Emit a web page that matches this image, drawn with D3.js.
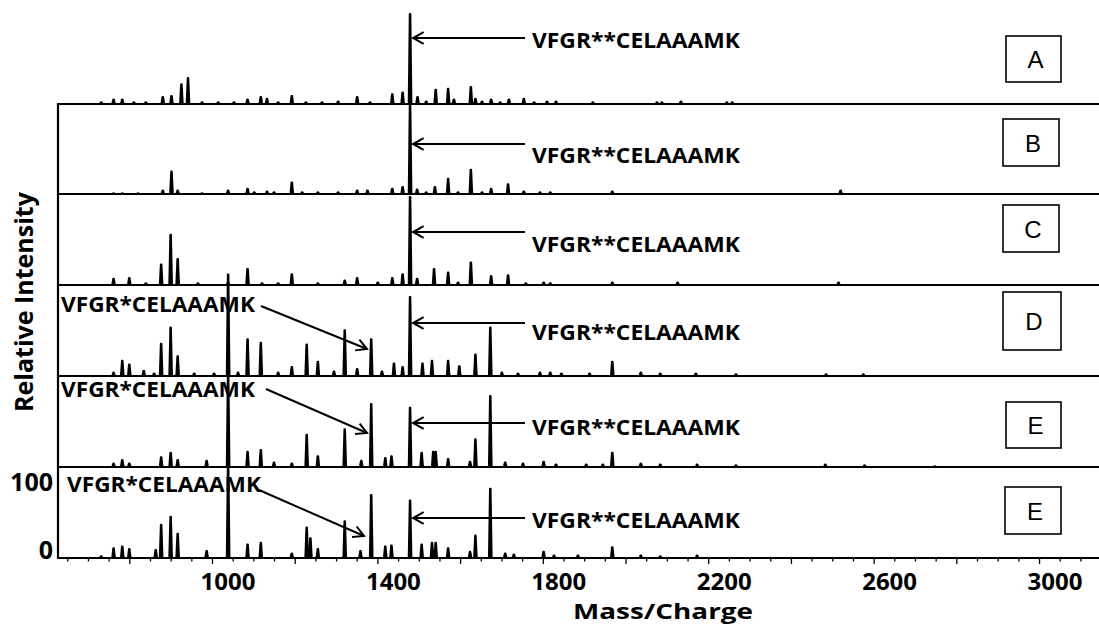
<!DOCTYPE html>
<html><head><meta charset="utf-8">
<script src="https://cdn.jsdelivr.net/npm/d3@7"></script>
<style>body{margin:0;background:#fff} svg{display:block}</style>
</head><body><svg id="c" width="1099" height="629"></svg>
<script>
// ---- data ----
const panelLabels = ["A","B","C","D","E","E"];
const xTickLabels = [1000,1400,1800,2200,2600,3000];
const peakLabelMain = "VFGR**CELAAAMK";
const peakLabelMinor = "VFGR*CELAAAMK";
const mainPeakMz = 1479;
const minorPeakMz = 1385;
// [m/z, relative intensity]
const peaksA = [[732,2],[762,5],[783,5],[811,2],[840,2],[881,8],[902,9],[926,22],[942,29],[976,2],[1015,2],[1053,2],[1086,5],[1118,8],[1133,6],[1160,2],[1193,9],[1227,2],[1266,2],[1305,3],[1351,8],[1382,2],[1436,11],[1461,13],[1479,100],[1497,8],[1518,3],[1541,16],[1571,17],[1585,5],[1626,19],[1637,6],[1653,3],[1675,5],[1697,2],[1718,5],[1754,6],[1779,2],[1810,3],[1832,3],[1921,2],[2076,2],[2088,2],[2134,3],[2245,2],[2258,2]];
const peaksB = [[762,1],[783,1],[821,1],[881,4],[902,25],[917,4],[976,1],[1039,4],[1086,6],[1102,2],[1133,3],[1150,2],[1193,13],[1218,2],[1256,2],[1305,2],[1351,4],[1376,4],[1436,6],[1461,8],[1479,100],[1496,5],[1518,2],[1539,8],[1571,17],[1595,2],[1626,27],[1653,2],[1675,6],[1716,11],[1754,3],[1793,2],[1818,2],[1968,3],[2520,4]];
const peaksC = [[762,7],[800,8],[840,2],[877,23],[900,56],[917,29],[966,2],[1039,3],[1086,18],[1121,2],[1160,2],[1193,12],[1256,2],[1321,5],[1351,8],[1401,3],[1436,8],[1461,12],[1479,98],[1496,7],[1537,18],[1571,14],[1595,3],[1626,25],[1675,10],[1716,11],[1759,2],[1802,3],[1818,2],[1968,3],[2126,3],[2515,3]];
const peaksD = [[762,4],[783,17],[800,13],[835,6],[860,3],[877,36],[900,54],[917,22],[957,3],[1005,3],[1039,113],[1063,4],[1086,41],[1118,37],[1160,4],[1193,10],[1229,35],[1256,16],[1295,5],[1321,51],[1351,8],[1385,41],[1411,5],[1440,14],[1461,10],[1479,88],[1509,14],[1532,17],[1571,17],[1598,11],[1637,24],[1673,54],[1701,4],[1740,3],[1793,4],[1818,4],[1845,3],[1913,3],[1968,16],[2037,4],[2084,3],[2170,3],[2267,2],[2485,2],[2575,2]];
const peaksE = [[762,4],[783,8],[800,4],[877,11],[900,16],[917,8],[987,7],[1039,105],[1086,17],[1118,19],[1150,5],[1193,4],[1229,36],[1256,12],[1321,42],[1361,7],[1385,70],[1419,10],[1434,12],[1479,66],[1507,16],[1535,17],[1541,17],[1571,9],[1624,6],[1637,31],[1673,79],[1709,5],[1752,4],[1802,6],[1832,3],[1905,3],[1945,3],[1968,16],[2037,4],[2084,3],[2173,3],[2267,2],[2483,3],[2578,2],[2748,1]];
const peaksF = [[732,2],[762,11],[783,13],[800,10],[864,9],[877,37],[900,46],[917,27],[987,8],[1039,106],[1086,15],[1118,17],[1193,5],[1229,34],[1238,22],[1256,10],[1321,41],[1359,8],[1385,70],[1419,13],[1434,14],[1479,64],[1507,15],[1532,17],[1541,17],[1571,11],[1624,7],[1637,25],[1673,77],[1709,5],[1730,4],[1802,7],[1827,3],[1885,3],[1968,12],[2037,3],[2084,2],[2173,3]];
const spectra = [peaksA,peaksB,peaksC,peaksD,peaksE,peaksF];

// ---- layout ----
const W = 1099, H = 629;
const axisX = 58;
const bases = [104,194,285,376,467,558];
const panelH = 90;
const svg = d3.select("#c");
const x = d3.scaleLinear().domain([627.6,3145]).range([axisX, W]);
const FONT = "'Open Sans', 'DejaVu Sans', sans-serif";

const g = svg.append("g");

// spectra
spectra.forEach((pk, i) => {
  const y = d3.scaleLinear().domain([0,100]).range([bases[i], bases[i]-panelH]);
  const sorted = pk.slice().sort((a,b)=>a[0]-b[0]);
  const pts = [[725,0]];
  sorted.forEach(([m,h]) => {
    pts.push([m-3.5,0],[m-0.9,h],[m+0.9,h],[m+3.5,0]);
  });
  pts.push([3145,0]);
  g.append("path")
    .attr("d", d3.line().x(d=>x(d[0])).y(d=>y(d[1]))(pts))
    .attr("fill","#000").attr("stroke","#000").attr("stroke-width",1.8)
    .attr("stroke-linejoin","round");
});

// separator / base lines
bases.forEach(b => {
  g.append("line").attr("x1",axisX).attr("x2",W).attr("y1",b).attr("y2",b)
    .attr("stroke","#000").attr("stroke-width",2.2);
});
g.append("line").attr("x1",axisX).attr("x2",axisX).attr("y1",bases[0]-1).attr("y2",bases[5]+1)
  .attr("stroke","#000").attr("stroke-width",2.2);

// x axis
const axis = d3.axisBottom(x).tickValues(d3.range(650,3150,50)).tickSize(3).tickFormat("");
const ax = svg.append("g").attr("transform",`translate(0,${bases[5]})`).call(axis);
ax.select(".domain").remove();
ax.selectAll(".tick line").attr("stroke","#000").attr("stroke-width",1.3)
  .attr("y2", d => d % 200 === 0 ? 6 : 3.5);
svg.append("g").selectAll("text").data(xTickLabels).join("text")
  .attr("x", d => x(d) + 16).attr("y", 590)
  .attr("text-anchor","middle")
  .attr("font-family",FONT).attr("font-weight","bold").attr("font-size",24)
  .text(d => d);
svg.append("text").attr("x",663).attr("y",619).attr("text-anchor","middle")
  .attr("font-family",FONT).attr("font-weight","bold").attr("font-size",21)
  .attr("textLength",180).attr("lengthAdjust","spacingAndGlyphs")
  .text("Mass/Charge");

// y axis labels
svg.append("text").attr("x",53).attr("y",491).attr("text-anchor","end")
  .attr("font-family",FONT).attr("font-weight","bold").attr("font-size",25).text("100");
svg.append("text").attr("x",53).attr("y",559).attr("text-anchor","end")
  .attr("font-family",FONT).attr("font-weight","bold").attr("font-size",25).text("0");
svg.append("text").attr("transform","translate(33,302) rotate(-90)").attr("text-anchor","middle")
  .attr("font-family",FONT).attr("font-weight","bold").attr("font-size",25)
  .text("Relative Intensity");

// annotations
const arrowY = [38,144,232,323,423,518];
const textBase = [48,163,252,340,435,528];
function chevron(px,py,angle){
  const L=12, a=0.5;
  const p1=[px+L*Math.cos(angle+a), py+L*Math.sin(angle+a)];
  const p2=[px+L*Math.cos(angle-a), py+L*Math.sin(angle-a)];
  return `M${p1}L${px},${py}L${p2}`;
}
const ann = svg.append("g").attr("stroke","#000").attr("stroke-width",2).attr("fill","none");
arrowY.forEach((ay,i) => {
  const px = x(mainPeakMz)+3;
  ann.append("line").attr("x1",px).attr("x2",525).attr("y1",ay).attr("y2",ay);
  ann.append("path").attr("d",chevron(px,ay,0));
  svg.append("text").attr("x",532).attr("y",textBase[i])
    .attr("font-family",FONT).attr("font-weight","bold").attr("font-size",21)
    .attr("textLength",208).attr("lengthAdjust","spacingAndGlyphs")
    .text(peakLabelMain);
});
const minorText = [[61,312],[61,397],[67,492]];
const minorArrow = [[261,306,367,349],[266,389,367,433],[259,490,364,536]];
minorArrow.forEach((a,j) => {
  const ang = Math.atan2(a[1]-a[3], a[0]-a[2]);
  ann.append("line").attr("x1",a[0]).attr("y1",a[1]).attr("x2",a[2]).attr("y2",a[3]);
  ann.append("path").attr("d",chevron(a[2],a[3],ang));
  svg.append("text").attr("x",minorText[j][0]).attr("y",minorText[j][1])
    .attr("font-family",FONT).attr("font-weight","bold").attr("font-size",21)
    .attr("textLength",194).attr("lengthAdjust","spacingAndGlyphs")
    .text(peakLabelMinor);
});

// panel boxes
const boxes = [[1006,36,55,46],[1003,119,56,47],[1003,205,56,47],[1003,292,58,58],[1006,402,55,46],[1005,487,56,47]];
panelLabels.forEach((lab,i) => {
  const [bx,by,bw,bh] = boxes[i];
  svg.append("rect").attr("x",bx).attr("y",by).attr("width",bw).attr("height",bh)
    .attr("fill","#fff").attr("stroke","#000").attr("stroke-width",1.6);
  svg.append("text").attr("x",bx+bw/2+2).attr("y",by+bh/2+9).attr("text-anchor","middle")
    .attr("font-family","'Liberation Sans', Arial, sans-serif").attr("font-size",24).text(lab);
});
</script></body></html>
